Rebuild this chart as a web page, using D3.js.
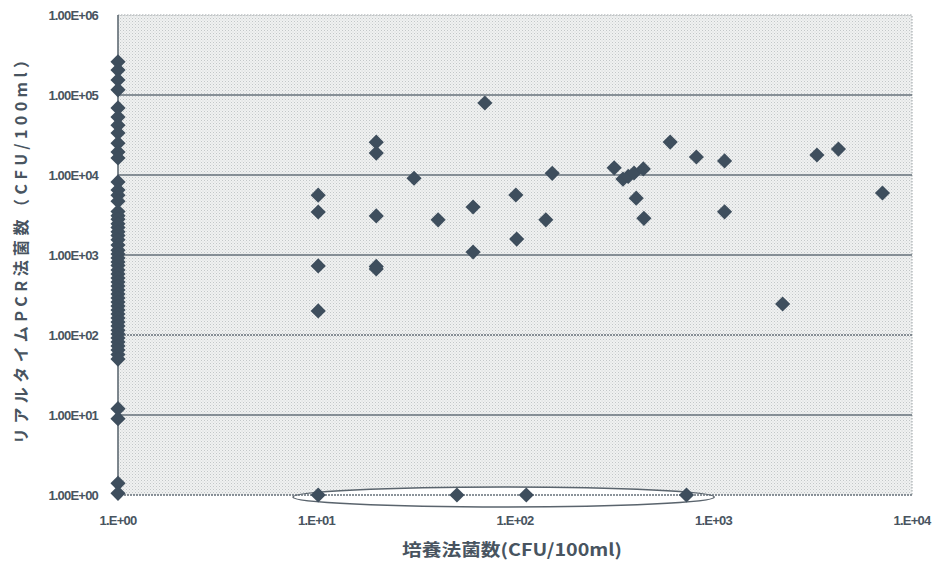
<!DOCTYPE html>
<html>
<head>
<meta charset="utf-8">
<script src="https://cdn.jsdelivr.net/npm/d3@7"></script>
<style>
  body { margin: 0; background: #fff; }
  svg { display: block; font-family: "Liberation Sans", Arial, sans-serif; }
</style>
</head>
<body>
<div id="chart"></div>
<script>
// culture count (x) vs real-time PCR count (y), both CFU/100ml
// samples where culture found 1 CFU (left column)
const leftColX = 1;
const leftColY = [260000, 205000, 154000, 116000, 69000, 53000, 42000, 33500, 25000, 19400, 16300,
  8200, 6500, 5600, 4700, 3500, 3100, 2800, 2450, 2200, 1950, 1750, 1550, 1330, 1150, 1030, 920,
  820, 740, 650, 580, 515, 460, 410, 365, 325, 290, 258, 230, 205, 183, 163, 145, 130, 115, 103,
  92, 82, 73, 65, 57, 50, 12, 9, 1.4, 1.05];

// remaining samples
const pointsX = [10.2, 10.2, 10.2, 10.2, 20, 20, 20, 20, 20, 31, 41, 61.5, 61.5, 70.5, 101, 102,
  143, 154, 316, 350, 372, 398, 443, 408, 446, 605, 820, 1137, 1137, 2230, 3320, 4260, 7100];
const pointsY = [5600, 3450, 730, 200, 25700, 18800, 3080, 720, 670, 9100, 2750, 3980, 1090, 79400,
  5620, 1580, 2750, 10500, 12300, 8900, 9600, 10600, 11900, 5130, 2870, 25800, 16800, 15000, 3460,
  244, 17800, 21100, 5960];

// samples with PCR result at 1 (bottom, circled)
const bottomX = [10.2, 51, 114, 731];
const bottomY = 1;
const circledRange = [7.6, 1010];

const xTicks = [1, 10, 100, 1000, 10000];
const xTickLabels = ["1.E+00", "1.E+01", "1.E+02", "1.E+03", "1.E+04"];
const yTicks = [1, 10, 100, 1000, 10000, 100000, 1000000];
const yTickLabels = ["1.00E+00", "1.00E+01", "1.00E+02", "1.00E+03", "1.00E+04", "1.00E+05", "1.00E+06"];

const width = 937, height = 561;
const margin = { top: 15, right: 25, bottom: 66, left: 118 };
const ink = "#485460";
const markColor = "#3e4e5d";

const svg = d3.select("#chart").append("svg")
  .attr("width", width).attr("height", height);

const defs = svg.append("defs");
const pat = defs.append("pattern")
  .attr("id", "dots").attr("width", 3).attr("height", 3)
  .attr("patternUnits", "userSpaceOnUse");
pat.append("rect").attr("width", 3).attr("height", 3).attr("fill", "#f0f1f1");
pat.append("rect").attr("x", 0).attr("y", 0).attr("width", 1).attr("height", 1).attr("fill", "#c2c7c8");
pat.append("rect").attr("x", 1.5).attr("y", 1.5).attr("width", 1).attr("height", 1).attr("fill", "#d2d6d6");

const x = d3.scaleLog().domain([1, 10000]).range([margin.left, width - margin.right]);
const y = d3.scaleLog().domain([1, 1000000]).range([height - margin.bottom, margin.top]);

// plot background
svg.append("rect")
  .attr("x", x(1)).attr("y", y(1000000))
  .attr("width", x(10000) - x(1)).attr("height", y(1) - y(1000000))
  .attr("fill", "url(#dots)");

// top / right border (light dotted)
svg.append("path")
  .attr("d", `M${x(1)},${y(1000000)}H${x(10000)}V${y(1)}`)
  .attr("fill", "none").attr("stroke", "#9aa1a4").attr("stroke-width", 1)
  .attr("stroke-dasharray", "1.5,1.5");

// gridlines
svg.append("g").selectAll("line")
  .data(yTicks.slice(1, -1))
  .enter().append("line")
  .attr("x1", x(1)).attr("x2", x(10000))
  .attr("y1", d => y(d)).attr("y2", d => y(d))
  .attr("stroke", "#66707a").attr("stroke-width", 1.4)
  .attr("stroke-dasharray", d => d === 100 ? "2,1" : null);

// circled group at the bottom
const ex0 = x(circledRange[0]), ex1 = x(circledRange[1]);
svg.append("ellipse")
  .attr("cx", (ex0 + ex1) / 2).attr("cy", y(1) + 2)
  .attr("rx", (ex1 - ex0) / 2).attr("ry", 10)
  .attr("fill", "#fff").attr("stroke", "#5a646d").attr("stroke-width", 1.5);

// x axis line (dotted look)
svg.append("line")
  .attr("x1", x(1)).attr("x2", x(10000))
  .attr("y1", y(1)).attr("y2", y(1))
  .attr("stroke", "#66707a").attr("stroke-width", 1.5)
  .attr("stroke-dasharray", "2,1");

// y axis line
svg.append("line")
  .attr("x1", x(1)).attr("x2", x(1))
  .attr("y1", y(1000000)).attr("y2", y(1))
  .attr("stroke", "#55606a").attr("stroke-width", 1.5);

// tick labels
svg.append("g").selectAll("text")
  .data(yTicks)
  .enter().append("text")
  .attr("x", 98).attr("y", d => y(d) + 5)
  .attr("text-anchor", "end")
  .attr("font-size", 13).attr("font-weight", "bold")
  .attr("letter-spacing", "-0.8")
  .attr("fill", ink)
  .text((d, i) => yTickLabels[i]);

svg.append("g").selectAll("text")
  .data(xTicks)
  .enter().append("text")
  .attr("x", d => x(d)).attr("y", 525)
  .attr("text-anchor", "middle")
  .attr("font-size", 13).attr("font-weight", "bold")
  .attr("letter-spacing", "-0.8")
  .attr("fill", ink)
  .text((d, i) => xTickLabels[i]);

// diamonds
const diamond = d3.symbol().type(d3.symbolSquare).size(115);
const allPts = leftColY.map(v => [leftColX, v])
  .concat(pointsX.map((v, i) => [v, pointsY[i]]))
  .concat(bottomX.map(v => [v, bottomY]));

svg.append("g").selectAll("path")
  .data(allPts)
  .enter().append("path")
  .attr("d", diamond)
  .attr("transform", d => `translate(${x(d[0])},${y(d[1])}) rotate(45)`)
  .attr("fill", markColor);

// axis titles
svg.append("text")
  .attr("x", 512).attr("y", 556)
  .attr("text-anchor", "middle")
  .attr("font-family", "'Noto Sans CJK JP', sans-serif")
  .attr("font-size", 17).attr("font-weight", "bold")
  .attr("textLength", 220).attr("lengthAdjust", "spacingAndGlyphs")
  .attr("fill", ink)
  .text("培養法菌数(CFU/100ml)");

svg.append("text")
  .attr("transform", "translate(27,248) rotate(-90)")
  .attr("text-anchor", "middle")
  .attr("font-family", "'Noto Sans CJK JP', sans-serif")
  .attr("font-size", 16).attr("font-weight", "bold")
  .attr("textLength", 392).attr("lengthAdjust", "spacing")
  .attr("fill", ink)
  .text("リアルタイムPCR法菌数（CFU/100ml）");
</script>
</body>
</html>
